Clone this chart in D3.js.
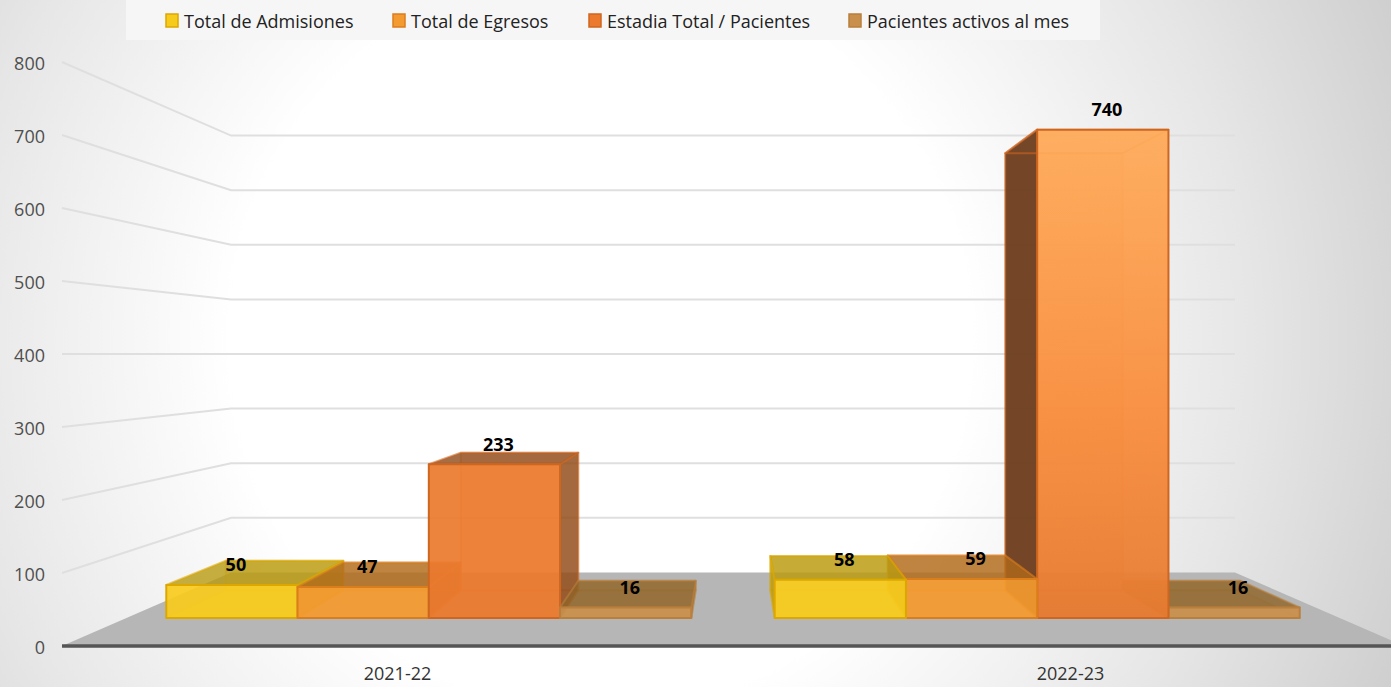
<!DOCTYPE html>
<html>
<head>
<meta charset="utf-8">
<script src="https://cdn.jsdelivr.net/npm/d3@7"></script>
<style>
  html, body { margin: 0; padding: 0; background: #fff; overflow: hidden; }
  text { font-family: "Open Sans", "Noto Sans", sans-serif; }
</style>
</head>
<body>
<div id="chart"></div>
<script>
// values
const categories = ["2021-22", "2022-23"];
const seriesNames = ["Total de Admisiones", "Total de Egresos", "Estadia Total / Pacientes", "Pacientes activos al mes"];
const admisiones = [50, 58];
const egresos = [47, 59];
const estadia = [233, 740];
const activos = [16, 16];
const yTicks = [0, 100, 200, 300, 400, 500, 600, 700, 800];

const seriesValues = [admisiones, egresos, estadia, activos];
const colors = ["#f7cb1c", "#f39a30", "#ec7a2e", "#c98f4c"];
const edges = ["#dca800", "#dc7d1c", "#cf661f", "#b97f3c"];
const sideColors = ["#b89a10", "#b06a1c", "#8f4a18", "#8f6428"];
const legendSwatchX = [166, 393, 589, 849];

const width = 1391,
      height = 687,
      margin = ({ top: 62, right: -13, bottom: 41, left: 62 });

// depth factors: 1 = front of the floor, 0.748 = back wall
const backWall = 0.748,
      barFront = 0.904,
      barBack = 0.809;

let svg = d3.select("#chart")
    .append("svg")
    .attr("width", width)
    .attr("height", height)
    .attr("viewBox", [0, 0, width, height])
    .style("display", "block");

// slightly wider than the floor so the two groups land where they should
let x = d3.scaleBand()
    .domain(categories)
    .range([margin.left - 2, width - margin.right + 2])
    .paddingInner(0.137)
    .paddingOuter(0.0685);

let xSeries = d3.scaleBand()
    .domain(d3.range(seriesNames.length))
    .range([0, x.bandwidth()]);

let y = d3.scaleLinear()
    .domain([0, 800])
    .range([height - margin.bottom, margin.top]);

// everything converges on this point (eye level is the 400 line)
const vanish = { x: (margin.left + width - margin.right) / 2, y: y(400) };

function project(px, value, depth) {
    return [vanish.x + (px - vanish.x) * depth, vanish.y + (y(value) - vanish.y) * depth];
}

// background
let defs = svg.append("defs");

let bg = defs.append("radialGradient")
    .attr("id", "bg")
    .attr("gradientUnits", "userSpaceOnUse")
    .attr("cx", 600).attr("cy", 340).attr("r", 880);
bg.append("stop").attr("offset", "0.42").attr("stop-color", "#ffffff");
bg.append("stop").attr("offset", "0.74").attr("stop-color", "#e6e6e6");
bg.append("stop").attr("offset", "1").attr("stop-color", "#cdcdcd");

let tall = defs.append("linearGradient")
    .attr("id", "tall")
    .attr("gradientUnits", "userSpaceOnUse")
    .attr("x1", 0).attr("x2", 0).attr("y1", 128).attr("y2", 620);
tall.append("stop").attr("offset", "0").attr("stop-color", "#ffab5a");
tall.append("stop").attr("offset", "0.6").attr("stop-color", "#f88c3c");
tall.append("stop").attr("offset", "1").attr("stop-color", "#e67a30");

svg.append("rect")
    .attr("width", width)
    .attr("height", height)
    .attr("fill", "url(#bg)");

svg.append("rect")
    .attr("x", 126).attr("y", 0)
    .attr("width", 974).attr("height", 40)
    .attr("fill", "#f6f6f6");

// floor
const left = margin.left, right = width - margin.right;
svg.append("polygon")
    .attr("points", [project(left, 0, 1), project(left, 0, backWall), project(right, 0, backWall), project(right, 0, 1)].join(" "))
    .attr("fill", "#b6b6b6");

// grid: side wall then back wall
let grid = svg.append("g")
    .attr("fill", "none")
    .attr("stroke", "#dfdfdf")
    .attr("stroke-width", 2);

grid.selectAll("polyline")
    .data(yTicks.filter(d => d > 0))
    .join("polyline")
    .attr("points", d => [project(left, d, 1), project(left, d, backWall), project(right, d, backWall)].join(" "));

// bars, the ones furthest from the vanishing point go first
let bars = [];
categories.forEach((c, i) => {
    seriesValues.forEach((s, j) => {
        bars.push({ cat: c, series: j, value: s[i], x0: x(c) + xSeries(j), x1: x(c) + xSeries(j) + xSeries.bandwidth() });
    });
});
const farness = d => Math.abs((d.x0 + d.x1) / 2 - vanish.x);
bars.sort((a, b) => d3.descending(farness(a), farness(b)));

function face(d, corners) {
    return corners.map(c => project(c[0] ? d.x1 : d.x0, c[1] ? d.value : 0, c[2] ? barBack : barFront)).join(" ");
}

let bar = svg.selectAll(".bar")
    .data(bars)
    .join("g")
    .attr("class", "bar")
    .attr("stroke", d => edges[d.series])
    .attr("stroke-width", 2)
    .attr("stroke-linejoin", "round");

// back
bar.append("polygon")
    .attr("points", d => face(d, [[0,0,1],[1,0,1],[1,1,1],[0,1,1]]))
    .attr("fill", d => colors[d.series])
    .attr("fill-opacity", 0.2)
    .attr("stroke-opacity", 0.3);

// bottom
bar.append("polygon")
    .attr("points", d => face(d, [[0,0,0],[1,0,0],[1,0,1],[0,0,1]]))
    .attr("fill", d => colors[d.series])
    .attr("fill-opacity", 0.25)
    .attr("stroke-opacity", 0.3);

// the side that faces the viewer: right of it on the left half, left of it on the right half
bar.append("polygon")
    .attr("points", d => {
        let side = (d.x0 + d.x1) / 2 < vanish.x ? 1 : 0;
        return face(d, [[side,0,0],[side,0,1],[side,1,1],[side,1,0]]);
    })
    .attr("fill", d => d.value > 400 ? "#6e4020" : sideColors[d.series])
    .attr("fill-opacity", d => d.value > 400 ? 0.96 : 0.8)
    .attr("stroke-opacity", 0.5);

// top
bar.append("polygon")
    .attr("points", d => face(d, [[0,1,0],[1,1,0],[1,1,1],[0,1,1]]))
    .attr("fill", d => sideColors[d.series])
    .attr("fill-opacity", d => d.value > 400 ? 0 : 0.8)
    .attr("stroke-opacity", 0.6);

// front
bar.append("polygon")
    .attr("points", d => face(d, [[0,0,0],[1,0,0],[1,1,0],[0,1,0]]))
    .attr("fill", d => d.value > 400 ? "url(#tall)" : colors[d.series])
    .attr("fill-opacity", d => d.value > 400 ? 0.95 : 0.92);

// value labels sit above the middle of each front edge
svg.selectAll(".value")
    .data(bars)
    .join("text")
    .attr("class", "value")
    .text(d => d.value)
    .attr("x", d => project((d.x0 + d.x1) / 2, d.value, barFront)[0] + 4)
    .attr("y", d => project((d.x0 + d.x1) / 2, d.value, barFront)[1] - 20)
    .attr("dy", "0.35em")
    .attr("text-anchor", "middle")
    .attr("font-size", 18)
    .attr("font-weight", 700)
    .attr("fill", "#000");

// front edge of the floor
svg.append("line")
    .attr("x1", left).attr("x2", width)
    .attr("y1", y(0)).attr("y2", y(0))
    .attr("stroke", "#555")
    .attr("stroke-width", 3.5);

// axes
let yAxis = svg.append("g")
    .attr("transform", `translate(${left - 17},2)`)
    .call(d3.axisLeft(y).tickValues(yTicks).tickSize(0).tickPadding(0));
yAxis.select(".domain").remove();
yAxis.selectAll("text")
    .attr("font-size", 18)
    .attr("fill", "#4f4f4f")
    .style("font-family", '"Open Sans", sans-serif');

let xAxis = svg.append("g")
    .attr("transform", `translate(1,${y(0)})`)
    .call(d3.axisBottom(x).tickSize(0).tickPadding(21));
xAxis.select(".domain").remove();
xAxis.selectAll("text")
    .attr("font-size", 18)
    .attr("fill", "#333")
    .style("font-family", '"Open Sans", sans-serif');

// legend
let legend = svg.selectAll(".legend")
    .data(seriesNames)
    .join("g")
    .attr("class", "legend")
    .attr("transform", (d, i) => `translate(${legendSwatchX[i]},14)`);

legend.append("rect")
    .attr("width", 12)
    .attr("height", 13)
    .attr("fill", (d, i) => colors[i])
    .attr("stroke", (d, i) => edges[i])
    .attr("stroke-width", 1.5);

legend.append("text")
    .text(d => d)
    .attr("x", 18)
    .attr("y", 8)
    .attr("dy", "0.35em")
    .attr("font-size", 18)
    .attr("fill", "#222");
</script>
</body>
</html>
